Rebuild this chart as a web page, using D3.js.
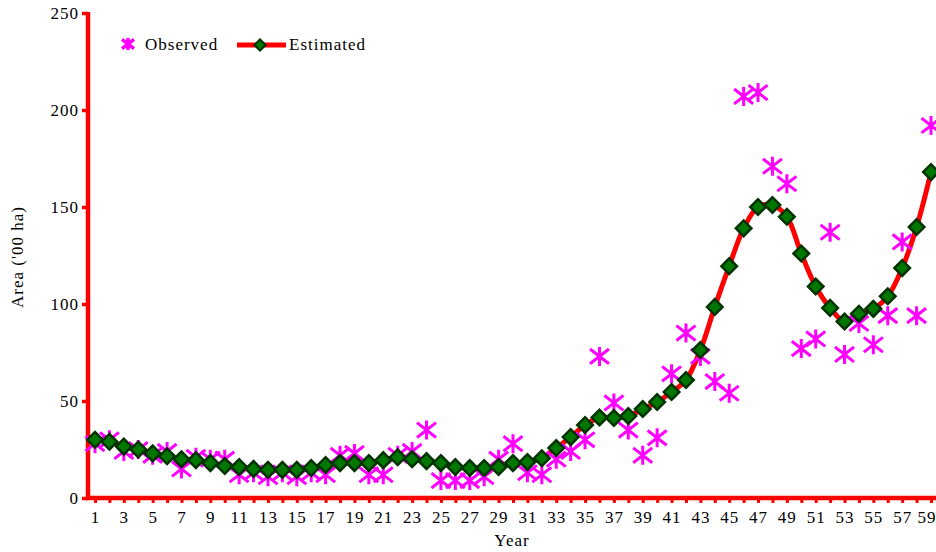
<!DOCTYPE html>
<html>
<head>
<meta charset="utf-8">
<script src="https://cdn.jsdelivr.net/npm/d3@7"></script>
<style>
  body { margin: 0; background: #fff; }
  text { font-family: "Liberation Serif", "Times New Roman", serif; fill: #000; letter-spacing: 1px; }
</style>
</head>
<body>
<svg id="chart" width="936" height="552"></svg>
<script>
// years 1..59
const years = d3.range(1, 60);

const observed = [
  28, 30, 24, 25, 22, 24, 15, 21, 20, 20,
  12, 13, 11, 13, 11, 13, 12, 22, 23, 12,
  12, 22, 24, 35, 9, 9, 9, 11, 20, 28,
  13, 12, 20, 24, 30, 73, 49, 35, 22, 31,
  64, 85, 73, 60, 54, 207, 209, 171, 162, 77,
  82, 137, 74, 90, 79, 94, 132, 94, 192
];

const estimated = [
  30, 29, 26.5, 25, 23, 21.5, 20, 19.5, 18, 16.5,
  16, 15, 14.5, 14.5, 14.5, 15.5, 17, 18, 18, 18,
  19.5, 21, 20, 19, 18, 16, 15.5, 15.5, 16, 18,
  18.5, 20.5, 25.8, 31.4, 37.6, 41.5, 41.2, 42.3, 45.9, 49.5,
  54.6, 60.8, 76.3, 98.5, 119.5, 139, 150, 151, 145, 126,
  109, 98, 91, 95, 97.5, 104, 118.5, 139.7, 168
];

const yTicks = [0, 50, 100, 150, 200, 250];

const svg = d3.select('#chart');
const red = '#ff0000', magenta = '#ff00ff', green = '#007800', darkGreen = '#003300';

const x = d3.scaleLinear().domain([1, 59]).range([95, 931]);
const y = d3.scaleLinear().domain([0, 250]).range([498, 13]);

// asterisk: vertical stroke plus an X
const asterisk = {
  draw(ctx, size) {
    const r = Math.sqrt(size) / 2;
    ctx.moveTo(0, -r); ctx.lineTo(0, r);
    ctx.moveTo(-r, -r * 0.78); ctx.lineTo(r, r * 0.78);
    ctx.moveTo(-r, r * 0.78); ctx.lineTo(r, -r * 0.78);
  }
};
const starPath = d3.symbol().type(asterisk).size(361)();
const diamondPath = d3.symbol().type(d3.symbolSquare).size(121)();

// axes ticks + labels
const yAxis = svg.append('g')
  .attr('transform', `translate(88,0)`)
  .call(d3.axisLeft(y).tickValues(yTicks).tickSize(6).tickPadding(3));
yAxis.select('.domain').remove();
yAxis.selectAll('line').attr('stroke', red).attr('stroke-width', 3.5);
yAxis.selectAll('text').attr('font-size', 17).attr('font-family', '"Liberation Serif", serif');

const xAxis = svg.append('g')
  .attr('transform', `translate(0,498)`)
  .call(d3.axisBottom(x).tickValues(years).tickSize(5).tickPadding(8)
    .tickFormat(d => d % 2 === 1 ? d : ''));
xAxis.select('.domain').remove();
xAxis.selectAll('line').attr('stroke', red).attr('stroke-width', 3);
xAxis.selectAll('text').attr('font-size', 17).attr('font-family', '"Liberation Serif", serif');
// last label sits at the right edge; keep it inside the page
xAxis.selectAll('text').filter(d => d === 59).attr('text-anchor', 'end').attr('dx', 5);

// axis lines
svg.append('line').attr('x1', 88).attr('x2', 88).attr('y1', y(250) - 1).attr('y2', 500)
  .attr('stroke', red).attr('stroke-width', 4.5);
svg.append('line').attr('x1', 86).attr('x2', 936).attr('y1', 498).attr('y2', 498)
  .attr('stroke', red).attr('stroke-width', 4.5);

// axis titles
svg.append('text').attr('x', 512).attr('y', 546).attr('text-anchor', 'middle')
  .attr('font-size', 17).text('Year');
svg.append('text').attr('transform', 'translate(23,257) rotate(-90)').attr('text-anchor', 'middle')
  .attr('font-size', 17).text("Area ('00 ha)");

// estimated line
const line = d3.line().x((d, i) => x(years[i])).y(d => y(d)).curve(d3.curveCatmullRom);
svg.append('path').datum(estimated).attr('d', line)
  .attr('fill', 'none').attr('stroke', red).attr('stroke-width', 5);

// observed
svg.append('g').selectAll('path').data(observed).join('path')
  .attr('d', starPath)
  .attr('transform', (d, i) => `translate(${x(years[i])},${y(d)})`)
  .attr('fill', 'none').attr('stroke', magenta).attr('stroke-width', 3);

// estimated markers
svg.append('g').selectAll('path').data(estimated).join('path')
  .attr('d', diamondPath)
  .attr('transform', (d, i) => `translate(${x(years[i])},${y(d)}) rotate(45)`)
  .attr('fill', green).attr('stroke', darkGreen).attr('stroke-width', 2.5);

// legend
const legend = svg.append('g');
legend.append('path').attr('d', d3.symbol().type(asterisk).size(144)())
  .attr('transform', 'translate(128,44)')
  .attr('fill', 'none').attr('stroke', magenta).attr('stroke-width', 3.5);
legend.append('text').attr('x', 145).attr('y', 50).attr('font-size', 17).text('Observed');
legend.append('line').attr('x1', 237).attr('x2', 286).attr('y1', 45).attr('y2', 45)
  .attr('stroke', red).attr('stroke-width', 5);
legend.append('path').attr('d', d3.symbol().type(d3.symbolSquare).size(64)())
  .attr('transform', 'translate(260,45) rotate(45)')
  .attr('fill', green).attr('stroke', darkGreen).attr('stroke-width', 2);
legend.append('text').attr('x', 289).attr('y', 50).attr('font-size', 17).text('Estimated');
</script>
</body>
</html>
